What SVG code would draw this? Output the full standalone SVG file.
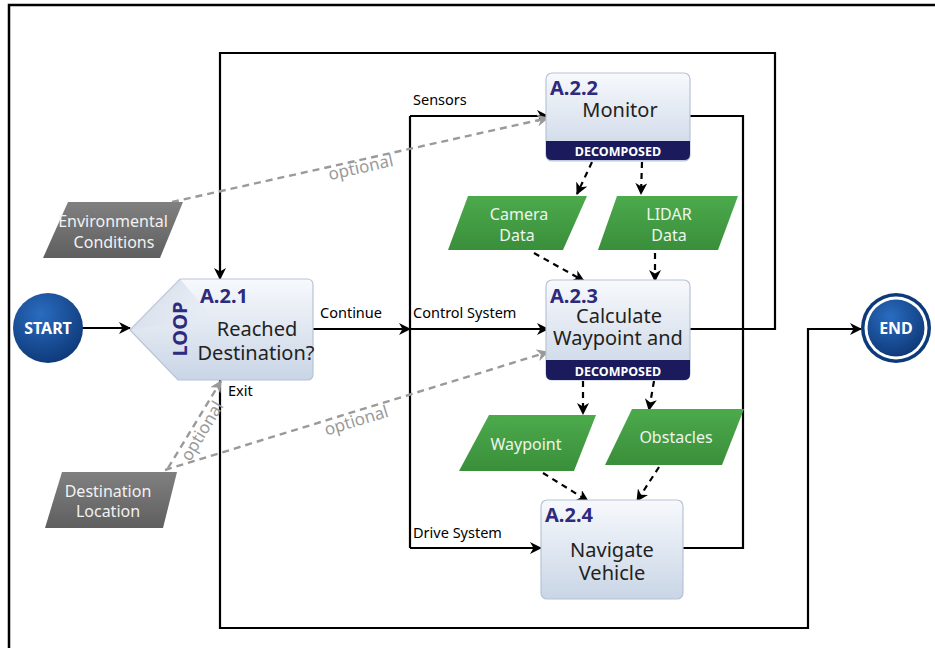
<svg xmlns="http://www.w3.org/2000/svg" width="935" height="648" viewBox="0 0 935 648">
  <defs>
    <linearGradient id="nodeFill" x1="0" y1="0" x2="0" y2="1">
      <stop offset="0" stop-color="#f7f9fc"/>
      <stop offset="1" stop-color="#c9d5e6"/>
    </linearGradient>
    <linearGradient id="greenFill" x1="0" y1="0" x2="0" y2="1">
      <stop offset="0" stop-color="#4caa4c"/>
      <stop offset="1" stop-color="#3a8f3a"/>
    </linearGradient>
    <linearGradient id="grayFill" x1="0" y1="0" x2="0" y2="1">
      <stop offset="0" stop-color="#808080"/>
      <stop offset="1" stop-color="#5f5f5f"/>
    </linearGradient>
    <radialGradient id="blueFill" cx="0.4" cy="0.3" r="0.8">
      <stop offset="0" stop-color="#2a6cc0"/>
      <stop offset="1" stop-color="#0b3472"/>
    </radialGradient>
    <linearGradient id="loopShade" x1="0" y1="0" x2="1" y2="1">
      <stop offset="0" stop-color="#b9c6d8"/>
      <stop offset="1" stop-color="#e8edf5" stop-opacity="0"/>
    </linearGradient>
    <marker id="arrow" viewBox="0 0 12 12" refX="11" refY="6" markerWidth="12" markerHeight="12" markerUnits="userSpaceOnUse" orient="auto">
      <path d="M0,0 L12,6 L0,12 L3.5,6 z" fill="#000"/>
    </marker>
    <marker id="arrowGray" viewBox="0 0 12 12" refX="11" refY="6" markerWidth="12" markerHeight="12" markerUnits="userSpaceOnUse" orient="auto">
      <path d="M0,0 L12,6 L0,12 L3.5,6 z" fill="#999"/>
    </marker>
  </defs>
  <style>
    .flow { fill: none; stroke: #000; stroke-width: 2.2; }
    .data { fill: none; stroke: #000; stroke-width: 2.2; stroke-dasharray: 6 5; }
    .opt { fill: none; stroke: #9a9a9a; stroke-width: 2.4; stroke-dasharray: 7 5; }
    .node { fill: url(#nodeFill); stroke: #b7c3d5; stroke-width: 1.2; }
    .band { fill: #1b1a5c; }
    .bandText { font-family: "Noto Sans", "Liberation Sans", sans-serif; font-size: 12.5px; font-weight: bold; fill: #fff; text-anchor: middle; }
    .id { font-family: "Noto Sans", "Liberation Sans", sans-serif; font-size: 20px; font-weight: bold; fill: #2e2a7e; }
    .title { font-family: "Noto Sans", "Liberation Sans", sans-serif; font-size: 20px; fill: #222; text-anchor: middle; }
    .lbl { font-family: "Noto Sans", "Liberation Sans", sans-serif; font-size: 14.5px; fill: #000; }
    .optLbl { font-family: "Noto Sans", "Liberation Sans", sans-serif; font-size: 17px; fill: #9a9a9a; text-anchor: middle; }
    .green { fill: url(#greenFill); }
    .gray { fill: url(#grayFill); }
    .dataText { font-family: "Noto Sans", "Liberation Sans", sans-serif; font-size: 16px; fill: #eef6ee; text-anchor: middle; }
    .grayText { font-family: "Noto Sans", "Liberation Sans", sans-serif; font-size: 16px; fill: #f2f2f2; text-anchor: middle; }
    .term { font-family: "Noto Sans", "Liberation Sans", sans-serif; font-size: 16px; font-weight: bold; fill: #fff; text-anchor: middle; }
  </style>

  <rect width="935" height="648" fill="#fff"/>
  <!-- frame -->
  <path d="M9,648 V5 H935" fill="none" stroke="#000" stroke-width="2.5"/>

  <!-- connectors -->
  <g id="connectors">
    <path class="flow" d="M82,328 H130" marker-end="url(#arrow)"/>
    <path class="flow" d="M313,329 H410" marker-end="url(#arrow)"/>
    <path class="flow" d="M410,116 V548"/>
    <path class="flow" d="M410,116 H548" marker-end="url(#arrow)"/>
    <path class="flow" d="M410,329 H548" marker-end="url(#arrow)"/>
    <path class="flow" d="M410,548 H541" marker-end="url(#arrow)"/>
    <path class="flow" d="M690,116 H743 V548 H683"/>
    <path class="flow" d="M690,329 H775 V53 H220 V279" marker-end="url(#arrow)"/>
    <path class="flow" d="M220,380 V628 H808 V329 H861" marker-end="url(#arrow)"/>

    <path class="data" d="M592,162 L577,194" marker-end="url(#arrow)"/>
    <path class="data" d="M642,162 L641,194" marker-end="url(#arrow)"/>
    <path class="data" d="M534,253 L584,281" marker-end="url(#arrow)"/>
    <path class="data" d="M655,253 L655,281" marker-end="url(#arrow)"/>
    <path class="data" d="M583,381 L583,414" marker-end="url(#arrow)"/>
    <path class="data" d="M654,381 L649,410" marker-end="url(#arrow)"/>
    <path class="data" d="M543,473 L588,501" marker-end="url(#arrow)"/>
    <path class="data" d="M659,467 L637,501" marker-end="url(#arrow)"/>

    <path class="opt" d="M172,202 L548,118" marker-end="url(#arrowGray)"/>
    <path class="opt" d="M165,470 L548,352" marker-end="url(#arrowGray)"/>
    <path class="opt" d="M168,468 L221,381" marker-end="url(#arrowGray)"/>
    <text class="optLbl" transform="translate(362,173) rotate(-12.6)">optional</text>
    <text class="optLbl" transform="translate(358,426) rotate(-17)">optional</text>
    <text class="optLbl" transform="translate(207,434) rotate(-59)">optional</text>

    <text class="lbl" x="413" y="105">Sensors</text>
    <text class="lbl" x="320" y="318">Continue</text>
    <text class="lbl" x="413" y="318">Control System</text>
    <text class="lbl" x="228" y="396">Exit</text>
    <text class="lbl" x="413" y="538">Drive System</text>
  </g>

  <g id="start">
    <circle cx="48" cy="328" r="35" fill="url(#blueFill)"/>
    <text class="term" x="48" y="334">START</text>
  </g>

  <g id="end">
    <circle cx="896" cy="328" r="35" fill="#0d3a7a"/>
    <circle cx="896" cy="328" r="31.5" fill="#fff"/>
    <circle cx="896" cy="328" r="28.5" fill="url(#blueFill)"/>
    <text class="term" x="896" y="334">END</text>
  </g>

  <g id="a21">
    <path class="node" d="M130,330 L180,279 H307 Q313,279 313,285 V374 Q313,380 307,380 H178 Z"/>
    <path d="M180,279 L212,317 L130,330 Z" fill="url(#loopShade)" opacity="0.8"/>
    <text class="id" x="200" y="303">A.2.1</text>
    <text class="id" transform="translate(187,329) rotate(-90)" text-anchor="middle">LOOP</text>
    <text class="title" x="257" y="336">Reached</text>
    <text class="title" x="256" y="360">Destination?</text>
  </g>

  <g id="a22">
    <rect class="node" x="546" y="73" width="144" height="88" rx="6"/>
    <path class="band" d="M546,141 H690 V154 Q690,160 684,160 H552 Q546,160 546,154 Z"/>
    <text class="bandText" x="618" y="155.5">DECOMPOSED</text>
    <text class="id" x="550" y="95">A.2.2</text>
    <text class="title" x="620" y="117">Monitor</text>
  </g>

  <g id="a23">
    <rect class="node" x="546" y="280" width="144" height="100" rx="6"/>
    <path class="band" d="M546,360 H690 V374 Q690,380 684,380 H552 Q546,380 546,374 Z"/>
    <text class="bandText" x="618" y="375.5">DECOMPOSED</text>
    <text class="id" x="550" y="303">A.2.3</text>
    <text class="title" x="619" y="323">Calculate</text>
    <text class="title" x="618" y="345">Waypoint and</text>
  </g>

  <g id="a24">
    <rect class="node" x="541" y="500" width="142" height="99" rx="6"/>
    <text class="id" x="545" y="522">A.2.4</text>
    <text class="title" x="612" y="557">Navigate</text>
    <text class="title" x="612" y="580">Vehicle</text>
  </g>

  <g id="cameraData">
    <polygon class="green" points="468,196 587,196 563,250 448,250"/>
    <text class="dataText" x="519" y="220">Camera</text>
    <text class="dataText" x="517" y="241">Data</text>
  </g>

  <g id="lidarData">
    <polygon class="green" points="617,196 738,196 718,250 598,250"/>
    <text class="dataText" x="669" y="220">LIDAR</text>
    <text class="dataText" x="669" y="241">Data</text>
  </g>

  <g id="waypoint">
    <polygon class="green" points="489,415 596,415 574,471 459,471"/>
    <text class="dataText" x="526" y="450">Waypoint</text>
  </g>

  <g id="obstacles">
    <polygon class="green" points="632,409 744,409 722,465 605,465"/>
    <text class="dataText" x="676" y="443">Obstacles</text>
  </g>

  <g id="environmentalConditions">
    <polygon class="gray" points="68,202 183,202 160,258 43,258"/>
    <text class="grayText" x="113" y="227">Environmental</text>
    <text class="grayText" x="114" y="248">Conditions</text>
  </g>

  <g id="destinationLocation">
    <polygon class="gray" points="62,472 177,472 163,528 45,528"/>
    <text class="grayText" x="108" y="497">Destination</text>
    <text class="grayText" x="108" y="517">Location</text>
  </g>
</svg>
